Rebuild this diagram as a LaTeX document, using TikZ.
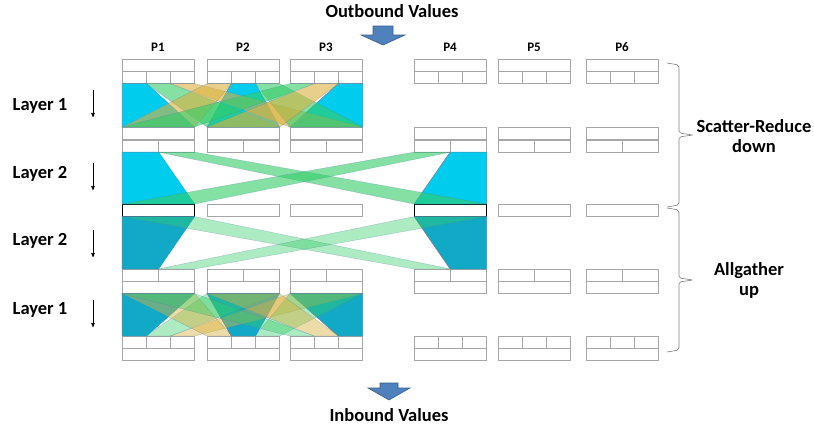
\documentclass[tikz,border=0pt]{standalone}
\usepackage{fontspec}
\setmainfont{Carlito}
\usepackage{xcolor}
\usepackage{tikz}
\usetikzlibrary{arrows}

\definecolor{cellgray}{HTML}{A6A6A6}
\definecolor{topcyan}{HTML}{00CCEE}
\definecolor{lowteal}{HTML}{12A9C6}
\definecolor{bandgreen}{HTML}{33CC66}
\definecolor{bandyellow}{HTML}{D9B13F}
\definecolor{edgeblue}{HTML}{5A7FA8}
\definecolor{arrowfill}{HTML}{4F81BD}
\definecolor{arrowline}{HTML}{385D8A}

\begin{document}
\begin{tikzpicture}[x=1pt,y=-1pt,>=stealth',
 cell/.style={draw=cellgray,line width=.6pt,inner sep=0pt,minimum height=12pt,anchor=north west},
 chosen/.style={cell,draw=black,line width=1pt},
 cyanup/.style={fill=topcyan,draw=edgeblue,line width=.3pt},
 tealdown/.style={fill=lowteal,draw=edgeblue,line width=.3pt},
 grn/.style={fill=bandgreen,fill opacity=.6,draw=edgeblue,draw opacity=.5,line width=.3pt},
 ylw/.style={fill=bandyellow,fill opacity=.6,draw=edgeblue,draw opacity=.5,line width=.3pt},
 lgrn/.style={grn,fill opacity=.4},
 lylw/.style={ylw,fill opacity=.45},
 title/.style={font=\bfseries\fontsize{18.5}{20}\selectfont,align=center},
 plabel/.style={font=\bfseries\fontsize{13}{15}\selectfont},
 bracket/.style={draw=gray,line width=.6pt,rounded corners=2pt},
 blockarrow/.style={fill=arrowfill,draw=arrowline,line width=.6pt}]
 \useasboundingbox (0,0) rectangle (814,429);

 % processes and their buffers
 \foreach \n/\x in {1/122,2/207,3/290,4/414,5/498,6/586} {
  \node[plabel] (L\n) at (\x+36,47) {P\n};
  % outbound values
  \node[cell,minimum width=72pt] (P\n-0) at (\x,59) {};
  \node[cell,minimum width=24pt] (P\n-0a) at (\x,71) {};
  \node[cell,minimum width=24pt] (P\n-0b) at (\x+24,71) {};
  \node[cell,minimum width=24pt] (P\n-0c) at (\x+48,71) {};
  % after layer 1
  \node[cell,minimum width=72pt] (P\n-1) at (\x,127) {};
  \node[cell,minimum width=36pt] (P\n-1a) at (\x,139.5) {};
  \node[cell,minimum width=36pt] (P\n-1b) at (\x+36,139.5) {};
  % after layer 2
  \node[cell,minimum width=72pt] (P\n-2) at (\x,204) {};
  % allgather layer 2
  \node[cell,minimum width=36pt] (P\n-3a) at (\x,269) {};
  \node[cell,minimum width=36pt] (P\n-3b) at (\x+36,269) {};
  \node[cell,minimum width=72pt] (P\n-3) at (\x,281) {};
  % inbound values
  \node[cell,minimum width=24pt] (P\n-4a) at (\x,336) {};
  \node[cell,minimum width=24pt] (P\n-4b) at (\x+24,336) {};
  \node[cell,minimum width=24pt] (P\n-4c) at (\x+48,336) {};
  \node[cell,minimum width=72pt] (P\n-4) at (\x,348) {};
 }
 \node[chosen,minimum width=72pt] at (122,204) {};
 \node[chosen,minimum width=72pt] at (414,204) {};

 % layer 1, scatter-reduce
 \foreach \i/\k/\j/\col in {1/a/1/cyanup,2/b/2/cyanup,3/c/3/cyanup,
   1/b/2/grn,1/c/3/ylw,2/a/1/ylw,2/c/3/grn,3/a/1/grn,3/b/2/ylw}
  \filldraw[\col] (P\i-0\k.south west) -- (P\i-0\k.south east)
   -- (P\j-1.north east) -- (P\j-1.north west) -- cycle;

 % layer 2, scatter-reduce
 \filldraw[cyanup] (P1-1a.south west) -- (P1-1a.south east) -- (P1-2.north east) -- (P1-2.north west) -- cycle;
 \filldraw[cyanup] (P4-1b.south west) -- (P4-1b.south east) -- (P4-2.north east) -- (P4-2.north west) -- cycle;
 \filldraw[grn] (P1-1b.south west) -- (P1-1b.south east) -- (P4-2.north east) -- (P4-2.north west) -- cycle;
 \filldraw[grn] (P4-1a.south west) -- (P4-1a.south east) -- (P1-2.north east) -- (P1-2.north west) -- cycle;

 % layer 2, allgather
 \filldraw[tealdown] (P1-2.south west) -- (P1-2.south east) -- (P1-3a.north east) -- (P1-3a.north west) -- cycle;
 \filldraw[tealdown] (P4-2.south west) -- (P4-2.south east) -- (P4-3b.north east) -- (P4-3b.north west) -- cycle;
 \filldraw[lgrn] (P1-2.south west) -- (P1-2.south east) -- (P4-3a.north east) -- (P4-3a.north west) -- cycle;
 \filldraw[lgrn] (P4-2.south west) -- (P4-2.south east) -- (P1-3b.north east) -- (P1-3b.north west) -- cycle;

 % layer 1, allgather
 \foreach \i/\k/\j/\col in {1/a/1/tealdown,2/b/2/tealdown,3/c/3/tealdown,
   1/b/2/lgrn,1/c/3/lylw,2/a/1/lylw,2/c/3/lgrn,3/a/1/lgrn,3/b/2/lylw}
  \filldraw[\col] (P\j-3.south west) -- (P\j-3.south east)
   -- (P\i-4\k.north east) -- (P\i-4\k.north west) -- cycle;

 % layer labels
 \foreach \y/\t/\s in {106/1/90,174/2/163,241/2/230,310/1/300} {
  \node[title] (lay\y) at (40,\y) {Layer \t};
  \coordinate (from\y) at (93,\s);
  \coordinate (to\y) at (93,\s+27);
  \draw[->,line width=.6pt] (from\y) -- (to\y);
 }

 % in and out
 \node[title] (out) at (392,11) {Outbound Values};
 \node[title] (in) at (389,415) {Inbound Values};
 \filldraw[blockarrow] (373,26) -- (393,26) -- (393,35) -- (405,35) -- (383,45)
  -- (361,35) -- (373,35) -- cycle;
 \filldraw[blockarrow] (380,383) -- (398,383) -- (398,388) -- (410,388) -- (389,400)
  -- (368,388) -- (380,388) -- cycle;

 % phases
 \draw[bracket] (667,63) -- (679,65) -- (679,133) -- (693,135) -- (679,137) -- (679,205) -- (667,207);
 \draw[bracket] (667,208) -- (679,210) -- (679,278) -- (693,280) -- (679,282) -- (679,350) -- (667,352);
 \node[title] (sr) at (754,136) {Scatter-Reduce\\down};
 \node[title] (ag) at (749,280) {Allgather\\up};
\end{tikzpicture}
\end{document}
